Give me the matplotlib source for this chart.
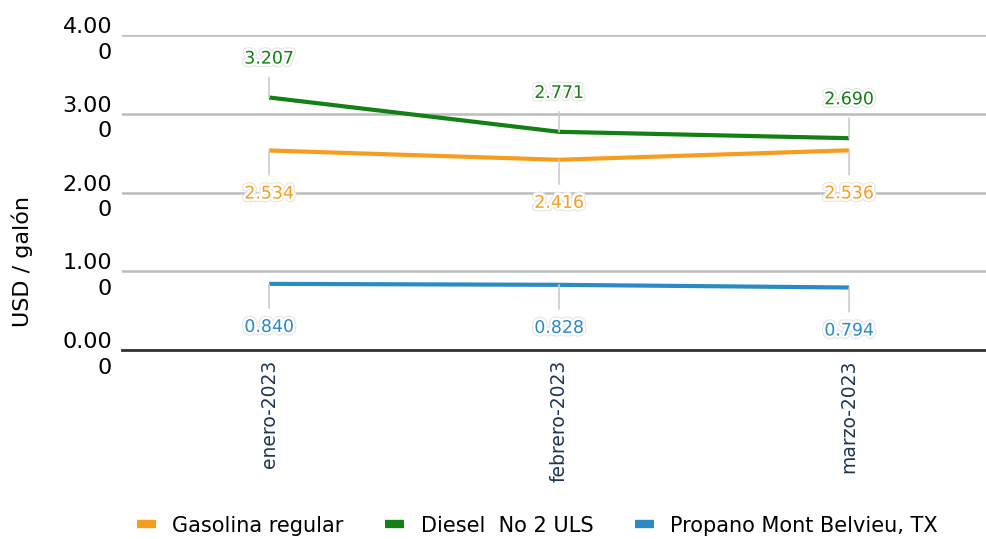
import matplotlib.pyplot as plt
import matplotlib.patheffects as pe

meses = ['enero-2023', 'febrero-2023', 'marzo-2023']
gasolina = [2.534, 2.416, 2.536]
diesel = [3.207, 2.771, 2.690]
propano = [0.840, 0.828, 0.794]
yticks = [0, 1, 2, 3, 4]
ytick_labels = ['0.00\n0', '1.00\n0', '2.00\n0', '3.00\n0', '4.00\n0']

c_gas = '#f79d1e'
c_die = '#128012'
c_pro = '#2a8bc4'

fig = plt.figure(figsize=(9.86, 5.39), dpi=100)
ax = fig.add_axes([0.1237, 0.3506, 0.8763, 0.5844])

x = list(range(len(meses)))
ax.plot(x, gasolina, color=c_gas, lw=3, label='Gasolina regular', solid_capstyle='butt')
ax.plot(x, diesel, color=c_die, lw=3, label='Diesel  No 2 ULS', solid_capstyle='butt')
ax.plot(x, propano, color=c_pro, lw=3, label='Propano Mont Belvieu, TX', solid_capstyle='butt')

def etiqueta(xi, yi, color, dy):
    t = ax.annotate(f'{yi:.3f}', xy=(xi, yi), xytext=(0, dy), textcoords='offset points',
                    ha='center', va='center', fontsize=12.5, color=color,
                    arrowprops=dict(arrowstyle='-', color='#cccccc', lw=1.2,
                                    shrinkA=5, shrinkB=0))
    t.set_path_effects([pe.withStroke(linewidth=5, foreground='#e4e4e4'),
                        pe.withStroke(linewidth=3.5, foreground='white')])

for i in x:
    etiqueta(i, diesel[i], c_die, 28)
    etiqueta(i, gasolina[i], c_gas, -31)
    etiqueta(i, propano[i], c_pro, -31)

ax.set_xlim(-0.507, 2.472)
ax.set_ylim(0, 4)
ax.set_yticks(yticks)
ax.set_yticklabels(ytick_labels, fontsize=16, linespacing=1.35)
ax.set_xticks(x)
ax.set_xticklabels(meses, rotation=90, fontsize=13.5, color='#1f3552')
ax.tick_params(length=0)
ax.tick_params(axis='y', pad=7)
ax.tick_params(axis='x', pad=7)
ax.grid(axis='y', color='#bcbcbc', lw=1.8)
ax.set_axisbelow(True)
for s in ['top', 'right', 'left']:
    ax.spines[s].set_visible(False)
ax.spines['bottom'].set_color('#333333')
ax.spines['bottom'].set_linewidth(2)
ax.set_ylabel('USD / galón', fontsize=16)
ax.yaxis.set_label_coords(-0.103, 0.28)

leg = fig.legend(loc='center', bbox_to_anchor=(0.545, 0.025), ncol=3, frameon=False,
                 fontsize=15, handlelength=0.9, handletextpad=0.8, columnspacing=2.0)
for h in leg.get_lines():
    h.set_linewidth(6)

fig.savefig('out.png', dpi=100)
